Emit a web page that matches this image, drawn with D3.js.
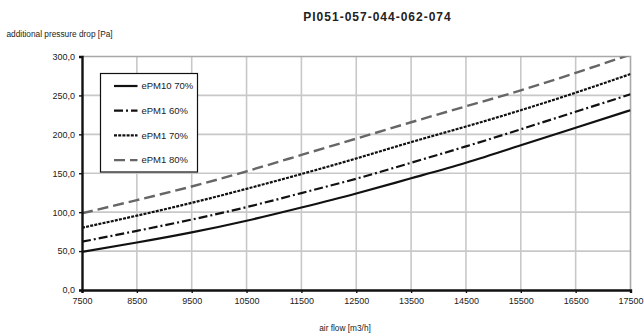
<!DOCTYPE html>
<html>
<head>
<meta charset="utf-8">
<script src="https://cdn.jsdelivr.net/npm/d3@7"></script>
<style>
  body { margin: 0; background: #fff; }
  text { font-family: "Liberation Sans", Arial, sans-serif; fill: #222; }
  .axis text { font-size: 9px; }
</style>
</head>
<body>
<div id="chart"></div>
<script>
// data
const airFlow = [7500, 8500, 9500, 10500, 11500, 12500, 13500, 14500, 15500, 16500, 17500]
const seriesNames = ["ePM10 70%", "ePM1 60%", "ePM1 70%", "ePM1 80%"]
const ePM10_70 = [49, 61, 74, 89, 106, 124, 143.5, 163.5, 186, 208.5, 231]
const ePM1_60 = [62, 76, 90.5, 106.5, 124.5, 143, 163.5, 184.5, 206.5, 229, 251.5]
const ePM1_70 = [80, 95.5, 112, 130, 149, 169, 190, 210, 231, 253.5, 277.5]
const ePM1_80 = [98.5, 115.5, 133, 152.5, 173.5, 194.5, 215.5, 236, 256.5, 279, 302.5]
const yTicks = [0, 50, 100, 150, 200, 250, 300]
const xTicks = airFlow

const series = [
  { name: seriesNames[0], values: ePM10_70, color: "#111", width: 2.2, dash: null },
  { name: seriesNames[1], values: ePM1_60, color: "#111", width: 2.2, dash: "9 3 2 3" },
  { name: seriesNames[2], values: ePM1_70, color: "#111", width: 2.2, dash: "3 1.2" },
  { name: seriesNames[3], values: ePM1_80, color: "#666", width: 2.4, dash: "11 5" },
]

const width = 644
const height = 336
const margin = { top: 56.5, right: 13.5, bottom: 46, left: 82 }
const innerW = width - margin.left - margin.right
const innerH = height - margin.top - margin.bottom

const svg = d3.select("#chart").append("svg")
  .attr("width", width)
  .attr("height", height)

const bounds = svg.append("g")
  .attr("transform", `translate(${margin.left},${margin.top})`)

const xScale = d3.scaleLinear()
  .domain([7500, 17500])
  .range([0, innerW])

const yScale = d3.scaleLinear()
  .domain([0, 300])
  .range([innerH, 0])

// grid
bounds.append("g")
  .selectAll("line")
  .data(xTicks.slice(1, -1))
  .join("line")
    .attr("x1", d => xScale(d)).attr("x2", d => xScale(d))
    .attr("y1", 0).attr("y2", innerH)
    .attr("stroke", "#c8c8c8").attr("stroke-width", 1.6)
bounds.append("g")
  .selectAll("line")
  .data(yTicks.slice(1, -1))
  .join("line")
    .attr("x1", 0).attr("x2", innerW)
    .attr("y1", d => yScale(d)).attr("y2", d => yScale(d))
    .attr("stroke", "#c8c8c8").attr("stroke-width", 1.6)

// top and right frame
bounds.append("path")
  .attr("d", `M0,${yScale(300)}H${xScale(17500)}V${yScale(0)}`)
  .attr("fill", "none")
  .attr("stroke", "#a8a8a8")
  .attr("stroke-width", 1.6)

// clip for lines
bounds.append("clipPath").attr("id", "plot-clip")
  .append("rect")
    .attr("x", 0).attr("y", 0)
    .attr("width", innerW).attr("height", innerH)

const lineGenerator = d3.line()
  .x((d, i) => xScale(airFlow[i]))
  .y(d => yScale(d))
  .curve(d3.curveNatural)

bounds.append("g")
  .attr("clip-path", "url(#plot-clip)")
  .selectAll("path")
  .data(series)
  .join("path")
    .attr("d", d => lineGenerator(d.values))
    .attr("fill", "none")
    .attr("stroke", d => d.color)
    .attr("stroke-width", d => d.width)
    .attr("stroke-dasharray", d => d.dash)

// axes
const yAxis = bounds.append("g")
  .attr("class", "axis")
  .call(d3.axisLeft(yScale)
    .tickValues(yTicks)
    .tickSize(3)
    .tickPadding(4)
    .tickFormat(d => d3.format(".1f")(d).replace(".", ",")))
yAxis.select(".domain").attr("stroke", "#111").attr("stroke-width", 2.4)
yAxis.selectAll(".tick line").attr("stroke", "#111").attr("stroke-width", 1.4)

const xAxis = bounds.append("g")
  .attr("class", "axis")
  .attr("transform", `translate(0,${innerH})`)
  .call(d3.axisBottom(xScale)
    .tickValues(xTicks)
    .tickSize(3)
    .tickPadding(5)
    .tickFormat(d3.format("d")))
xAxis.select(".domain").attr("stroke", "#111").attr("stroke-width", 2.4)
xAxis.selectAll(".tick line").attr("stroke", "#111").attr("stroke-width", 1.4)

// legend
const legend = svg.append("g")
  .attr("transform", "translate(100.5,73.5)")
legend.append("rect")
  .attr("width", 97)
  .attr("height", 98.5)
  .attr("fill", "#fff")
  .attr("stroke", "#111")
  .attr("stroke-width", 1.2)
const legendItems = legend.selectAll(".item")
  .data(series)
  .join("g")
    .attr("class", "item")
    .attr("transform", (d, i) => `translate(0,${12.5 + i * 24.7})`)
legendItems.append("line")
  .attr("x1", 13.5).attr("x2", 37)
  .attr("stroke", d => d.color)
  .attr("stroke-width", d => d.width)
  .attr("stroke-dasharray", d => d.dash)
legendItems.append("text")
  .attr("x", 41)
  .attr("y", 3.3)
  .style("font-size", "9.5px")
  .text(d => d.name)

// titles
svg.append("text")
  .attr("x", 377.5)
  .attr("y", 21)
  .attr("text-anchor", "middle")
  .style("font-size", "12px")
  .style("font-weight", "bold")
  .style("letter-spacing", "1px")
  .text("PI051-057-044-062-074")

svg.append("text")
  .attr("x", 6.5)
  .attr("y", 36.5)
  .style("font-size", "8.3px")
  .text("additional pressure drop [Pa]")

svg.append("text")
  .attr("x", 345)
  .attr("y", 331)
  .attr("text-anchor", "middle")
  .style("font-size", "8.3px")
  .text("air flow [m3/h]")
</script>
</body>
</html>
